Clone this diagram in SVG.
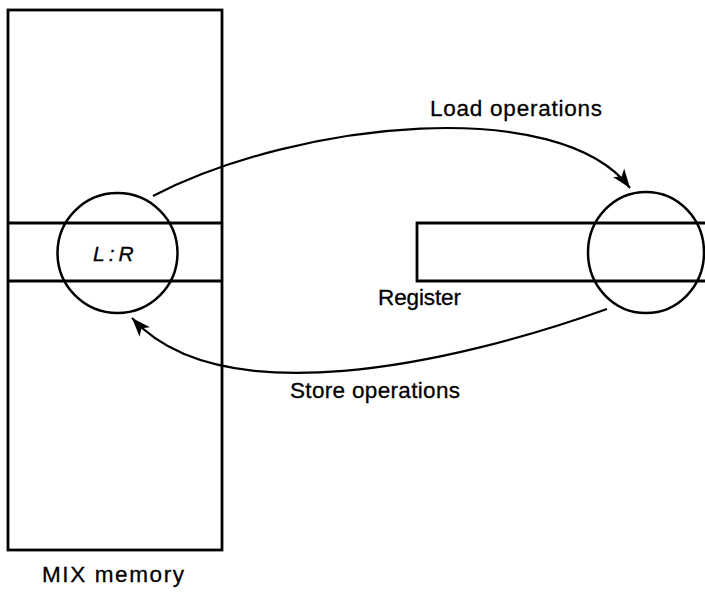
<svg xmlns="http://www.w3.org/2000/svg" width="705" height="594" viewBox="0 0 705 594">
  <style>
    .box { fill: none; stroke: #000; stroke-width: 2.8; }
    .ring { fill: none; stroke: #000; stroke-width: 2.5; }
    .flow { fill: none; stroke: #000; stroke-width: 2.2; }
    .lbl { font-family: "Liberation Sans", Arial, sans-serif; font-size: 22.5px; fill: #000; stroke: #000; stroke-width: 0.3; }
    .field { font-family: "Liberation Sans", Arial, sans-serif; font-size: 21px; font-style: italic; fill: #000; letter-spacing: 4px; stroke: #000; stroke-width: 0.3; }
  </style>
  <defs>
    <marker id="head" markerUnits="userSpaceOnUse" markerWidth="22" markerHeight="16" viewBox="-20 -8 22 16" refX="0" refY="0" orient="auto">
      <path d="M0,0 L-19,-7 L-14,0 L-19,7 Z" fill="#000"/>
    </marker>
  </defs>
  <rect width="705" height="594" fill="#fff"/>

  <!-- memory block with the selected L:R field -->
  <g id="memory">
    <rect class="box" x="8" y="10" width="214" height="540"/>
    <line class="box" x1="8" y1="223" x2="222" y2="223"/>
    <line class="box" x1="8" y1="281" x2="222" y2="281"/>
    <circle class="ring" cx="117.5" cy="253" r="60"/>
    <text class="field" x="93" y="261">L:R</text>
    <text class="lbl" x="42" y="582" textLength="142" lengthAdjust="spacing">MIX memory</text>
  </g>

  <!-- register, running off the right edge -->
  <g id="register">
    <path class="box" d="M708,223 H417 V281 H708"/>
    <ellipse class="ring" cx="646" cy="252.5" rx="58" ry="60.5"/>
    <text class="lbl" x="378" y="305" textLength="83" lengthAdjust="spacing">Register</text>
  </g>

  <!-- transfers between memory and register -->
  <g id="connectors">
    <path class="flow" d="M153,196 C300,120 560,95 630,188" marker-end="url(#head)"/>
    <path class="flow" d="M607,309 C450,365 220,415 132,318" marker-end="url(#head)"/>
    <text class="lbl" x="430" y="116" textLength="172" lengthAdjust="spacing">Load operations</text>
    <text class="lbl" x="290" y="398" textLength="170" lengthAdjust="spacing">Store operations</text>
  </g>
</svg>
